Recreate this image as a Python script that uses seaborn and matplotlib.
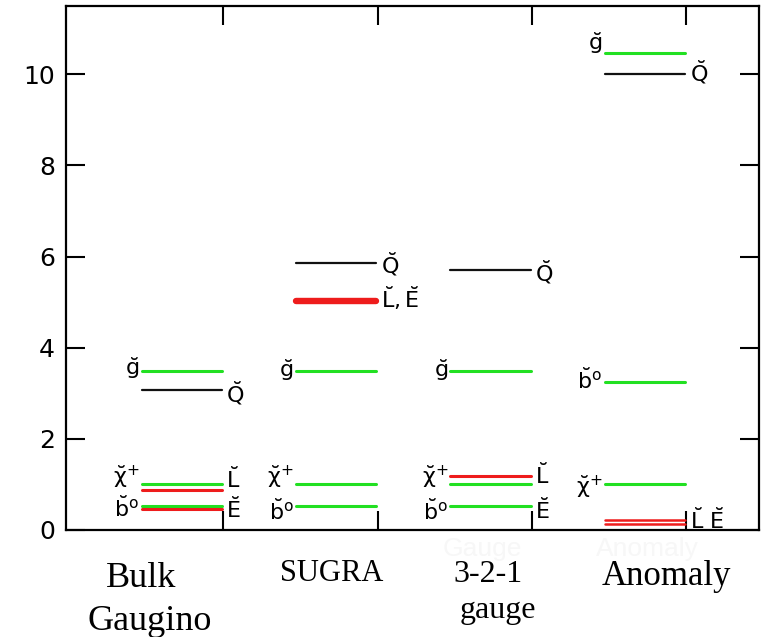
import matplotlib
matplotlib.use("Agg")
import matplotlib.pyplot as plt
import seaborn as sns
import pandas as pd

sns.set_theme(style="ticks")
plt.rcParams["font.family"] = ["DejaVu Sans"]
plt.rcParams["mathtext.fontset"] = "dejavusans"

# model columns and their x positions
models = ["Bulk\nGaugino", "SUGRA", "3-2-1\ngauge", "Anomaly"]
model_pos = [1, 2, 3, 4]

# mass levels per model and what kind of state each is
bulk_levels = [3.50, 3.08, 1.00, 0.88, 0.525, 0.46]
bulk_kinds = ["gaugino", "squark", "gaugino", "slepton", "gaugino", "slepton"]
sugra_levels = [5.87, 5.02, 3.50, 1.00, 0.525]
sugra_kinds = ["squark", "slepton_thick", "gaugino", "gaugino", "gaugino"]
gauge_levels = [5.70, 3.50, 1.18, 1.00, 0.525]
gauge_kinds = ["squark", "gaugino", "slepton", "gaugino", "gaugino"]
anomaly_levels = [10.47, 10.00, 3.25, 1.00, 0.22, 0.13]
anomaly_kinds = ["gaugino", "squark", "gaugino", "gaugino", "slepton_thin", "slepton_thin"]

# particle labels: (text, y) on the left and right of each column
G = r"$\breve{\mathrm{g}}$"
CH = r"$\breve{\mathrm{\chi}}^{+}$"
B0 = r"$\breve{\mathrm{b}}^{\mathrm{o}}$"
left_labels = [
    [(G, 3.55), (CH, 1.15), (B0, 0.47)],
    [(G, 3.50), (CH, 1.16), (B0, 0.42)],
    [(G, 3.50), (CH, 1.15), (B0, 0.42)],
    [(G, 10.68), (B0, 3.30), (CH, 0.94)],
]
right_labels = [
    [(r"$\breve{\mathrm{Q}}$", 3.00), (r"$\breve{\mathrm{L}}$", 1.12), (r"$\breve{\mathrm{E}}$", 0.46)],
    [(r"$\breve{\mathrm{Q}}$", 5.84), (r"$\breve{\mathrm{L}},\breve{\mathrm{E}}$", 5.08)],
    [(r"$\breve{\mathrm{Q}}$", 5.65), (r"$\breve{\mathrm{L}}$", 1.20), (r"$\breve{\mathrm{E}}$", 0.44)],
    [(r"$\breve{\mathrm{Q}}$", 10.05), (r"$\breve{\mathrm{L}}\ \breve{\mathrm{E}}$", 0.22)],
]

kind_colors = {"gaugino": "#22e022", "squark": "#111111", "slepton": "#ee1c1c",
               "slepton_thick": "#ee1c1c", "slepton_thin": "#ee1c1c"}
kind_widths = {"gaugino": 2.2, "squark": 1.6, "slepton": 2.2,
               "slepton_thick": 4.6, "slepton_thin": 1.8}

rows = []
seg = 0
for pos, levels, kinds in zip(model_pos,
                              [bulk_levels, sugra_levels, gauge_levels, anomaly_levels],
                              [bulk_kinds, sugra_kinds, gauge_kinds, anomaly_kinds]):
    for y, k in zip(levels, kinds):
        for x in (pos - 0.53, pos - 0.01):
            rows.append({"x": x, "y": y, "kind": k, "seg": seg})
        seg += 1
df = pd.DataFrame(rows)

fig = plt.figure(figsize=(7.67, 6.37), dpi=100)
ax = fig.add_axes([0.086, 0.168, 0.9036, 0.8226])

sns.lineplot(data=df, x="x", y="y", hue="kind", size="kind", units="seg",
             estimator=None, sort=False, palette=kind_colors, sizes=kind_widths,
             legend=False, ax=ax)

for pos, labs in zip(model_pos, left_labels):
    for txt, y in labs:
        ax.text(pos - 0.545, y, txt, ha="right", va="center", fontsize=16, color="black")
for pos, labs in zip(model_pos, right_labels):
    for txt, y in labs:
        ax.text(pos + 0.02, y, txt, ha="left", va="center", fontsize=16, color="black")

ax.set_xlim(-0.02, 4.47)
ax.set_ylim(0, 11.5)
ax.set_xticks(model_pos)
ax.set_xticklabels([])
ax.set_yticks([0, 2, 4, 6, 8, 10])
ax.set_xlabel("")
ax.set_ylabel("")
ax.tick_params(direction="in", length=14, width=1.5, top=True, right=True,
               labelsize=18, colors="black", pad=8)
for s in ax.spines.values():
    s.set_visible(True)
    s.set_linewidth(1.6)
    s.set_color("black")

# faint ghost text under the axis
for txt, xc in [("Gauge", 482), ("Anomaly", 647)]:
    fig.text(xc / 767, 1 - 556 / 637, txt, ha="center", va="baseline",
             fontsize=19, color="#f7f7f7", family="Liberation Sans")

# model names below the plot
name_specs = [("Bulk", 141, 587, 26), ("Gaugino", 150, 630, 26),
              ("SUGRA", 332, 581, 22), ("3-2-1", 488, 582, 23),
              ("gauge", 498, 618, 23), ("Anomaly", 666, 585, 25)]
for txt, xc, yb, fs in name_specs:
    fig.text(xc / 767, 1 - yb / 637, txt, ha="center", va="baseline",
             fontsize=fs, family="Liberation Serif", color="black")

fig.savefig("out.png", dpi=100)
